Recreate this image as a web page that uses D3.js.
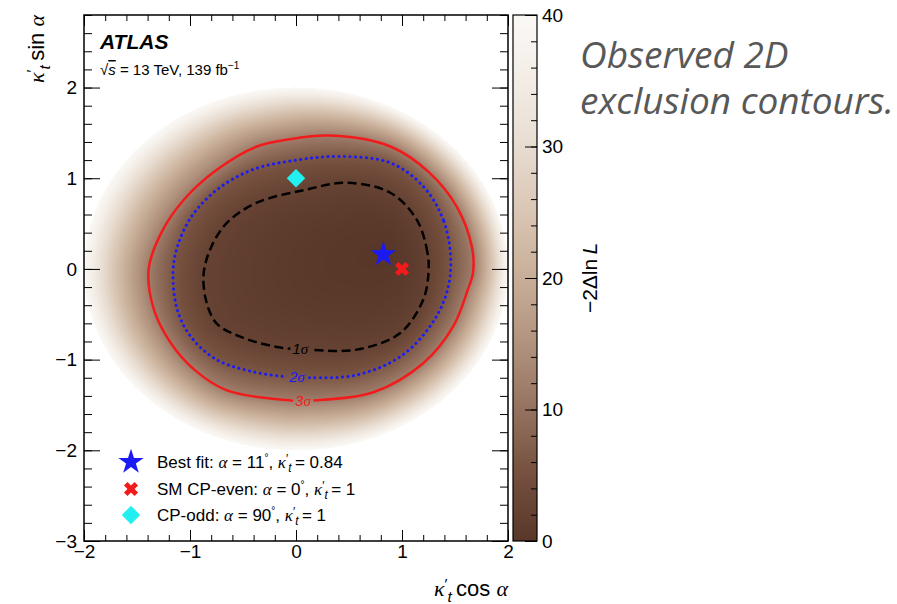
<!DOCTYPE html>
<html>
<head>
<meta charset="utf-8">
<script src="https://cdn.jsdelivr.net/npm/d3@7"></script>
<style>
  body { margin: 0; background: #fff; }
  svg { display: block; font-family: "Liberation Sans", Arial, sans-serif; }
</style>
</head>
<body>
<svg id="chart" width="897" height="604"></svg>
<script>
// contour points, as [kappa' cos(alpha), kappa' sin(alpha)]
const sigma1 = [[1.25,-0.04],[1.24,0.18],[1.14,0.54],[0.89,0.84],[0.48,0.95],[0.08,0.87],[-0.37,0.73],
  [-0.65,0.51],[-0.80,0.24],[-0.87,-0.04],[-0.85,-0.34],[-0.75,-0.60],[-0.52,-0.75],[-0.18,-0.86],
  [0.13,-0.89],[0.57,-0.89],[0.98,-0.71],[1.20,-0.34]];
const sigma2 = [[1.46,0.10],[1.39,0.54],[1.20,0.91],[0.89,1.17],[0.41,1.24],[0.00,1.20],[-0.42,1.09],
  [-0.75,0.87],[-0.99,0.57],[-1.12,0.24],[-1.16,-0.04],[-1.12,-0.45],[-0.99,-0.75],[-0.75,-1.00],
  [-0.42,-1.13],[-0.08,-1.19],[0.13,-1.20],[0.57,-1.17],[0.98,-0.97],[1.26,-0.64],[1.42,-0.27]];
const sigma3 = [[1.67,-0.04],[1.66,0.24],[1.52,0.68],[1.26,1.06],[0.89,1.35],[0.32,1.47],[-0.06,1.43],
  [-0.37,1.35],[-0.75,1.09],[-1.06,0.76],[-1.27,0.40],[-1.39,0.00],[-1.34,-0.45],[-1.18,-0.82],
  [-0.96,-1.11],[-0.65,-1.34],[-0.05,-1.45],[0.16,-1.45],[0.73,-1.36],[1.20,-1.04],[1.48,-0.64],[1.62,-0.23]];

// -2 Delta lnL at each contour (2D: 1, 2, 3 sigma) and at the edge of the scan
const contourLevels = [2.30, 6.18, 11.83];
const contourNames = ["1", "2", "3"];
const labelPoints = [[0.04,-0.883],[0.01,-1.192],[0.066,-1.457]];
const scanRadius = 2;
const zMax = 40;

// points shown with markers
const bestFit = { alpha: 11, kappa: 0.84 };
const smEven = { alpha: 0, kappa: 1 };
const cpOdd = { alpha: 90, kappa: 1 };

const xMajor = [-2, -1, 0, 1, 2];
const yMajor = [-3, -2, -1, 0, 1, 2];
const zMajor = [0, 10, 20, 30, 40];

// brown palette of the colour bar
const paletteValues = [0, 5, 10, 15, 20, 25, 30, 35, 40];
const paletteColours = ["#583729", "#754f3e", "#957260", "#b1937e", "#c8ae98", "#d9c6b4", "#e8dcd0", "#f3ede6", "#fbf9f6"];

const svg = d3.select("#chart");
const plot = { left: 84, right: 508, top: 15, bottom: 541 };
const bar = { left: 513, right: 537 };

const x = d3.scaleLinear().domain([-2, 2]).range([plot.left, plot.right]);
const y = d3.scaleLinear().domain([-3, 2.8]).range([plot.bottom, plot.top]);
const z = d3.scaleLinear().domain([0, zMax]).range([plot.bottom, plot.top]);
const colour = d3.scaleLinear().domain(paletteValues).range(paletteColours).clamp(true);

const polar = p => [p.kappa * Math.cos(p.alpha * Math.PI / 180), p.kappa * Math.sin(p.alpha * Math.PI / 180)];
const greek = "Liberation Serif, DejaVu Serif, serif";

// heat map layer (filled in once the contours exist)
const heat = svg.append("image")
    .attr("x", plot.left).attr("y", plot.top)
    .attr("width", plot.right - plot.left).attr("height", plot.bottom - plot.top);

// contour lines
const line = d3.line()
    .x(d => x(d[0])).y(d => y(d[1]))
    .curve(d3.curveCatmullRomClosed.alpha(0.5));

const contourStyle = [
    { stroke: "#000", dash: "9,4.5", cap: "butt" },
    { stroke: "#1b1bf5", dash: "0.1,5.4", cap: "round" },
    { stroke: "#f21b1b", dash: null, cap: "butt" }
];
const defs = svg.append("defs");
const contours = [sigma1, sigma2, sigma3];

const labels = svg.append("g").attr("font-style", "italic").attr("font-size", 15)
    .selectAll("text").data(labelPoints).join("text")
    .attr("x", d => x(d[0])).attr("y", d => y(d[1]))
    .attr("dy", "0.35em").attr("text-anchor", "middle")
    .attr("fill", (d, i) => contourStyle[i].stroke);
labels.append("tspan").text((d, i) => contourNames[i]);
labels.append("tspan").attr("font-family", greek).text("σ");

labels.each(function(d, i) {
    const b = this.getBBox();
    const m = defs.append("mask").attr("id", "gap" + i).attr("maskUnits", "userSpaceOnUse")
        .attr("x", 0).attr("y", 0).attr("width", 897).attr("height", 604);
    m.append("rect").attr("width", 897).attr("height", 604).attr("fill", "#fff");
    m.append("rect").attr("x", b.x - 2).attr("y", b.y).attr("width", b.width + 4).attr("height", b.height).attr("fill", "#000");
});

const paths = svg.insert("g", "g").selectAll("path").data(contours).join("path")
    .attr("d", line)
    .attr("fill", "none")
    .attr("stroke", (d, i) => contourStyle[i].stroke)
    .attr("stroke-width", (d, i) => i === 1 ? 3 : 2.5)
    .attr("stroke-dasharray", (d, i) => contourStyle[i].dash)
    .attr("stroke-linecap", (d, i) => contourStyle[i].cap)
    .attr("mask", (d, i) => `url(#gap${i})`);

// ---- build the -2 Delta lnL surface between the contours, radially around the best fit
const [bx, by] = polar(bestFit);
const cx = x(bx), cy = y(by);
const NB = 1440;

function radialProfile(pts) {
    const pol = pts.map(([px, py]) => [Math.atan2(py - cy, px - cx), Math.hypot(px - cx, py - cy)])
        .sort((a, b) => a[0] - b[0]);
    const ext = [[pol[pol.length - 1][0] - 2 * Math.PI, pol[pol.length - 1][1]], ...pol, [pol[0][0] + 2 * Math.PI, pol[0][1]]];
    const R = new Float64Array(NB);
    let j = 0;
    for (let b = 0; b < NB; b++) {
        const t = -Math.PI + (b + 0.5) * 2 * Math.PI / NB;
        while (j < ext.length - 2 && ext[j + 1][0] < t) j++;
        const [t0, r0] = ext[j], [t1, r1] = ext[j + 1];
        R[b] = t1 === t0 ? r0 : r0 + (r1 - r0) * (t - t0) / (t1 - t0);
    }
    return R;
}

const profiles = [];
paths.each(function() {
    const L = this.getTotalLength(), pts = [];
    for (let i = 0; i < 800; i++) {
        const p = this.getPointAtLength(i * L / 800);
        pts.push([p.x, p.y]);
    }
    profiles.push(radialProfile(pts));
});
profiles.push(radialProfile(d3.range(0, 360, 0.5).map(a =>
    [x(scanRadius * Math.cos(a * Math.PI / 180)), y(scanRadius * Math.sin(a * Math.PI / 180))])));

const sLevels = [0, ...contourLevels, zMax].map(Math.sqrt);
const lut = d3.range(0, 401).map(i => d3.rgb(colour(i / 10)));
const cw = plot.right - plot.left, ch = plot.bottom - plot.top;
const canvas = document.createElement("canvas");
canvas.width = cw; canvas.height = ch;
const ctx = canvas.getContext("2d");
const img = ctx.createImageData(cw, ch);
for (let j = 0; j < ch; j++) {
    for (let i = 0; i < cw; i++) {
        const px = plot.left + i + 0.5, py = plot.top + j + 0.5;
        const d = Math.hypot(px - cx, py - cy);
        let b = Math.floor((Math.atan2(py - cy, px - cx) + Math.PI) / (2 * Math.PI) * NB);
        b = Math.min(NB - 1, Math.max(0, b));
        const radii = [0, profiles[0][b], profiles[1][b], profiles[2][b], profiles[3][b]];
        if (d > radii[4]) continue;
        let k = 0;
        while (k < 3 && d > radii[k + 1]) k++;
        const s = sLevels[k] + (sLevels[k + 1] - sLevels[k]) * (d - radii[k]) / (radii[k + 1] - radii[k]);
        const c = lut[Math.min(400, Math.round(s * s * 10))];
        const o = (j * cw + i) * 4;
        img.data[o] = c.r; img.data[o + 1] = c.g; img.data[o + 2] = c.b; img.data[o + 3] = 255;
    }
}
ctx.putImageData(img, 0, 0);
heat.attr("href", canvas.toDataURL());

// ---- markers
const star = d3.symbol().type(d3.symbolStar).size(200);
const cross = d3.symbol().type(d3.symbolCross).size(125);
const diamond = d3.symbol().type(d3.symbolSquare).size(170);
const markers = [
    { p: bestFit, sym: star, fill: "#1a1af5", rot: 0 },
    { p: smEven, sym: cross, fill: "#f21b1b", rot: 45 },
    { p: cpOdd, sym: diamond, fill: "#22f0f0", rot: 45 }
];
svg.append("g").selectAll("path").data(markers).join("path")
    .attr("d", d => d.sym())
    .attr("fill", d => d.fill)
    .attr("transform", d => { const [u, v] = polar(d.p); return `translate(${x(u)},${y(v)}) rotate(${d.rot})`; });

// ---- axes, ticks inside the frame
function drawAxis(axis, tx, ty, labels) {
    const g = svg.append("g").attr("transform", `translate(${tx},${ty})`).call(axis);
    g.select(".domain").remove();
    g.selectAll(".tick line").attr("stroke", "#000").attr("stroke-width", 1);
    g.attr("font-family", null).attr("font-size", 19);
    if (!labels) g.selectAll(".tick text").remove();
    return g;
}
const xMinor = d3.range(-2, 2.001, 0.2);
const yMinor = d3.range(-3, 2.81, 0.2);
const fmt = d3.format("");
drawAxis(d3.axisBottom(x).tickValues(xMinor).tickSize(-6).tickSizeOuter(0), 0, plot.bottom, false);
drawAxis(d3.axisBottom(x).tickValues(xMajor).tickSize(-11).tickSizeOuter(0).tickPadding(4).tickFormat(fmt), 0, plot.bottom, true);
drawAxis(d3.axisTop(x).tickValues(xMinor).tickSize(-6).tickSizeOuter(0), 0, plot.top, false);
drawAxis(d3.axisTop(x).tickValues(xMajor).tickSize(-11).tickSizeOuter(0), 0, plot.top, false);
drawAxis(d3.axisLeft(y).tickValues(yMinor).tickSize(-8).tickSizeOuter(0), plot.left, 0, false);
drawAxis(d3.axisLeft(y).tickValues(yMajor).tickSize(-16).tickSizeOuter(0).tickPadding(7).tickFormat(fmt), plot.left, 0, true);
drawAxis(d3.axisRight(y).tickValues(yMinor).tickSize(-8).tickSizeOuter(0), plot.right, 0, false);
drawAxis(d3.axisRight(y).tickValues(yMajor).tickSize(-16).tickSizeOuter(0), plot.right, 0, false);

svg.append("rect")
    .attr("x", plot.left).attr("y", plot.top)
    .attr("width", plot.right - plot.left).attr("height", plot.bottom - plot.top)
    .attr("fill", "none").attr("stroke", "#000").attr("stroke-width", 1.5);

// ---- colour bar
const grad = defs.append("linearGradient").attr("id", "zgrad")
    .attr("x1", 0).attr("x2", 0).attr("y1", 1).attr("y2", 0);
grad.selectAll("stop").data(d3.range(0, zMax + 0.1, 2)).join("stop")
    .attr("offset", d => d / zMax).attr("stop-color", d => colour(d));
svg.append("rect")
    .attr("x", bar.left).attr("y", plot.top)
    .attr("width", bar.right - bar.left).attr("height", plot.bottom - plot.top)
    .attr("fill", "url(#zgrad)").attr("stroke", "#000").attr("stroke-width", 1.2);
drawAxis(d3.axisRight(z).tickValues(d3.range(0, zMax + 0.1, 2)).tickSize(-6).tickSizeOuter(0), bar.right, 0, false);
drawAxis(d3.axisRight(z).tickValues(zMajor).tickSize(-12).tickSizeOuter(0).tickPadding(5).tickFormat(fmt), bar.right, 0, true);

// ---- axis titles
function kappaT(t, size) {
    t.append("tspan").attr("font-family", greek).attr("font-style", "italic").text("κ");
    t.append("tspan").attr("font-size", size * 0.7).attr("dy", -size * 0.3).text("′");
    t.append("tspan").attr("font-size", size * 0.7).attr("font-style", "italic")
        .attr("dy", size * 0.55).text("t");
    t.append("tspan").attr("dy", -size * 0.25).text("\u2009");
}
const xTitle = svg.append("text").attr("x", plot.right).attr("y", 596)
    .attr("text-anchor", "end").attr("font-size", 22);
kappaT(xTitle, 22);
xTitle.append("tspan").text("cos ");
xTitle.append("tspan").attr("font-family", greek).attr("font-style", "italic").text("α");

const yTitle = svg.append("text").attr("transform", `translate(44,${plot.top}) rotate(-90)`)
    .attr("text-anchor", "end").attr("font-size", 22);
kappaT(yTitle, 22);
yTitle.append("tspan").text("sin ");
yTitle.append("tspan").attr("font-family", greek).attr("font-style", "italic").text("α");

const zTitle = svg.append("text").attr("transform", `translate(597,${(plot.top + plot.bottom) / 2}) rotate(-90)`)
    .attr("text-anchor", "middle").attr("font-size", 21);
zTitle.append("tspan").text("−2Δln\u2009");
zTitle.append("tspan").attr("font-style", "italic").text("L");

// ---- ATLAS label
svg.append("text").attr("x", 100).attr("y", 49)
    .attr("font-weight", "bold").attr("font-style", "italic").attr("font-size", 21).text("ATLAS");
const energy = svg.append("text").attr("x", 100).attr("y", 75).attr("font-size", 15);
energy.append("tspan").text("√");
energy.append("tspan").attr("font-style", "italic").attr("text-decoration", "overline").text("s");
energy.append("tspan").text(" = 13 TeV, 139 fb");
energy.append("tspan").attr("font-size", 10).attr("dy", -6).text("−1");

// ---- legend
const legendY = [462, 489, 515];
const legendText = [
    ["Best fit: ", bestFit],
    ["SM CP-even: ", smEven],
    ["CP-odd: ", cpOdd]
];
legendText.forEach(([name, p], i) => {
    const m = markers[i];
    svg.append("path").attr("d", m.sym()).attr("fill", m.fill)
        .attr("transform", `translate(131,${legendY[i]}) rotate(${m.rot})`);
    const t = svg.append("text").attr("x", 157).attr("y", legendY[i]).attr("dy", "0.35em").attr("font-size", 17);
    t.append("tspan").text(name);
    t.append("tspan").attr("font-family", greek).attr("font-style", "italic").text("α");
    t.append("tspan").text(` = ${p.alpha}`);
    t.append("tspan").attr("font-size", 10).attr("dy", -7).text("°");
    t.append("tspan").attr("dy", 7).text(", ");
    kappaT(t, 17);
    t.append("tspan").text(`= ${p.kappa}`);
});

// ---- side caption
const caption = svg.append("text").attr("font-family", "Open Sans, Noto Sans, sans-serif")
    .attr("font-style", "italic").attr("font-size", 37).attr("fill", "#585858");
caption.append("tspan").attr("x", 580).attr("y", 68).text("Observed 2D");
caption.append("tspan").attr("x", 580).attr("y", 114).text("exclusion contours.");
</script>
</body>
</html>
